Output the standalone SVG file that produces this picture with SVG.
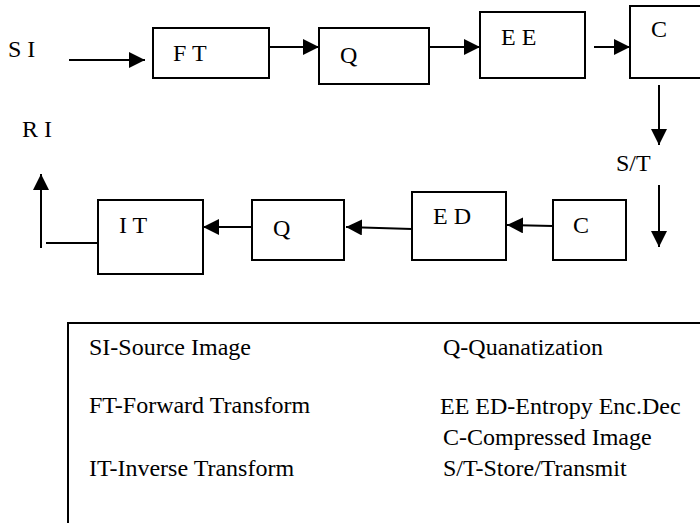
<svg xmlns="http://www.w3.org/2000/svg" width="700" height="523" viewBox="0 0 700 523">
  <style>
    text { font-family: "Liberation Serif", "Times New Roman", serif; font-size: 24px; fill: #000; }
    .box { fill: #fff; stroke: #000; stroke-width: 2; }
    .wire { fill: none; stroke: #000; stroke-width: 2; }
  </style>
  <defs>
    <marker id="head" viewBox="0 0 16 16" refX="16" refY="8" markerWidth="16" markerHeight="16" markerUnits="userSpaceOnUse" orient="auto">
      <path d="M0,0 L16,8 L0,16 Z" fill="#000"/>
    </marker>
  </defs>

  <!-- free labels -->
  <text x="8" y="57">S I</text>
  <text x="22" y="137">R I</text>
  <text x="616" y="171">S/T</text>

  <!-- encoder row -->
  <g id="ft"><rect class="box" x="153" y="28" width="116" height="50"/><text x="173" y="61">F T</text></g>
  <g id="q-enc"><rect class="box" x="319" y="28" width="110" height="56"/><text x="340" y="63">Q</text></g>
  <g id="ee"><rect class="box" x="480" y="12" width="105" height="66"/><text x="501" y="45">E E</text></g>
  <g id="c-enc"><rect class="box" x="630" y="6" width="90" height="72"/><text x="651" y="37">C</text></g>

  <!-- decoder row -->
  <g id="c-dec"><rect class="box" x="553" y="200" width="73" height="60"/><text x="573" y="233">C</text></g>
  <g id="ed"><rect class="box" x="412" y="192" width="94" height="68"/><text x="433" y="224">E D</text></g>
  <g id="q-dec"><rect class="box" x="252" y="200" width="92" height="60"/><text x="273" y="236">Q</text></g>
  <g id="it"><rect class="box" x="98" y="200" width="105" height="74"/><text x="119" y="233">I T</text></g>

  <!-- connectors -->
  <g id="connectors" class="wire">
    <line x1="69" y1="60" x2="145" y2="60" marker-end="url(#head)"/>
    <line x1="269" y1="47" x2="319" y2="47" marker-end="url(#head)"/>
    <line x1="429" y1="47" x2="480" y2="47" marker-end="url(#head)"/>
    <line x1="594" y1="47" x2="630" y2="47" marker-end="url(#head)"/>
    <line x1="659" y1="85" x2="659" y2="145" marker-end="url(#head)"/>
    <line x1="659" y1="185" x2="659" y2="247" marker-end="url(#head)"/>
    <line x1="553" y1="226" x2="507" y2="225" marker-end="url(#head)"/>
    <line x1="412" y1="229" x2="346" y2="227" marker-end="url(#head)"/>
    <line x1="252" y1="227" x2="203" y2="227" marker-end="url(#head)"/>
    <line x1="98" y1="243" x2="46" y2="243"/>
    <line x1="41" y1="248" x2="41" y2="174" marker-end="url(#head)"/>
  </g>

  <!-- key -->
  <g id="legend">
    <rect class="box" x="68" y="323" width="660" height="230"/>
    <text x="89" y="355">SI-Source Image</text>
    <text x="89" y="413">FT-Forward Transform</text>
    <text x="89" y="476">IT-Inverse Transform</text>
    <text x="443" y="355">Q-Quanatization</text>
    <text x="440" y="414">EE ED-Entropy Enc.Dec</text>
    <text x="443" y="445">C-Compressed Image</text>
    <text x="443" y="476">S/T-Store/Transmit</text>
  </g>
</svg>
